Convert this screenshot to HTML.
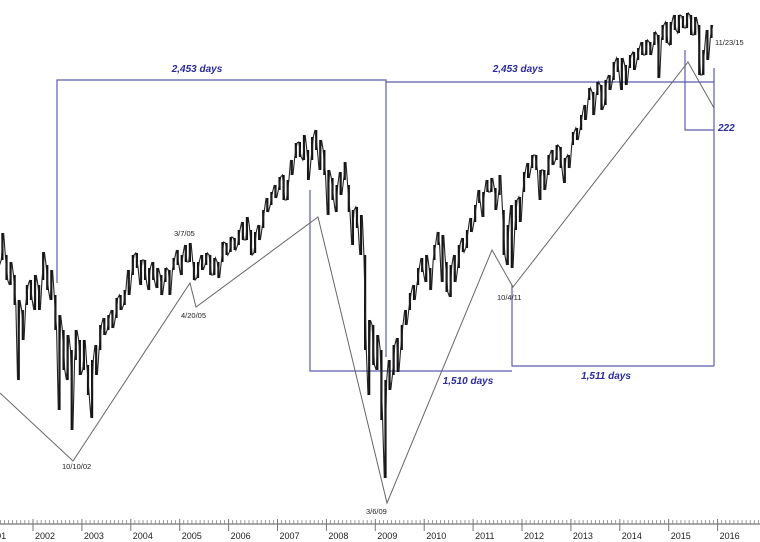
<!DOCTYPE html>
<html><head><meta charset="utf-8">
<style>
html,body{margin:0;padding:0;background:#fff;}
svg{display:block;font-family:"Liberation Sans",sans-serif;}
.ann{fill:none;stroke:#5c5cae;stroke-width:1.2;}
.days{fill:#2b2b9c;font-size:10px;font-weight:bold;font-style:italic;}
.lbl{fill:#222;font-size:7.5px;}
</style></head>
<body>
<svg id="chart" width="760" height="542" viewBox="0 0 760 542">
<rect width="760" height="542" fill="#fff"/>
<g id="annotations">
<path class="ann" d="M57,283 V80 H386 V357"/>
<path class="ann" d="M386,82 H714 V366"/>
<path class="ann" d="M714,68 V82"/>
<path class="ann" d="M685,50 V130 H714"/>
<path class="ann" d="M310,190 V371 H512"/>
<path class="ann" d="M512,285 V366 H714"/>
<text class="days" x="197" y="72" text-anchor="middle">2,453 days</text>
<text class="days" x="518" y="72" text-anchor="middle">2,453 days</text>
<text class="days" x="468" y="384" text-anchor="middle">1,510 days</text>
<text class="days" x="606" y="379" text-anchor="middle">1,511 days</text>
<text class="days" x="718" y="131">222</text>
<polyline fill="none" stroke="#666" stroke-width="1" points="0,393 73,461 190,283 196,307 318,217 387,503 492,250 513,287 688,62 714,108"/>
<text class="lbl" x="62" y="469">10/10/02</text>
<text class="lbl" x="174" y="236">3/7/05</text>
<text class="lbl" x="181" y="318">4/20/05</text>
<text class="lbl" x="366" y="514">3/6/09</text>
<text class="lbl" x="497" y="300">10/4/11</text>
<text class="lbl" x="715" y="45">11/23/15</text>
</g>
<g id="series"></g>
<g id="axis"></g>
</svg>
<script>
// monthly high / low levels, Apr 2001 .. Nov 2015 (chart units)
const startYear = 2001, startMonth = 3; // April 2001 (0-based month)
const highs = [
260,267,245,238,225,200,190,215,220,
225,215,248,235,230,205,185,170,165,150,170,160,
160,135,140,155,175,182,185,190,202,205,210,230,
245,247,240,240,232,238,232,225,232,230,242,250,
245,255,257,238,238,245,247,245,242,238,258,257,
263,262,270,278,283,270,268,275,290,302,308,315,
323,325,320,340,357,358,365,350,363,370,360,350,
330,322,315,328,338,315,290,293,285,245,180,175,
165,150,120,140,155,162,175,190,207,215,232,242,
245,232,255,268,265,238,235,245,255,262,270,282,
295,310,308,320,322,312,325,290,275,295,300,303,
328,337,345,345,330,330,345,350,355,353,342,345,
368,372,385,395,412,408,418,415,420,425,438,442,
442,435,445,448,452,458,460,458,468,465,475,478,
478,485,485,484,487,485,483,475,450,470,475];
const lows = [
235,240,220,215,195,120,160,195,200,
190,190,220,210,200,170,90,130,120,70,140,125,
130,105,82,125,150,165,170,172,182,190,195,205,
225,232,215,220,210,220,212,205,218,205,230,235,
225,238,238,220,222,230,235,225,225,222,238,245,
248,250,255,260,260,245,247,260,272,288,295,302,
310,300,300,325,342,343,340,320,340,350,330,325,
285,300,288,305,320,288,255,272,245,150,105,135,
130,80,22,110,125,128,150,175,190,200,215,228,
218,210,240,255,218,208,203,218,232,248,252,268,
278,297,283,308,308,290,305,245,235,232,270,278,
308,322,332,330,300,310,325,335,340,332,317,332,
355,360,370,380,400,385,405,390,395,410,420,428,
410,415,432,430,440,445,445,445,455,422,460,457,
455,470,467,472,472,465,465,425,425,440,462];
const yearTicks = [2001,2002,2003,2004,2005,2006,2007,2008,2009,2010,2011,2012,2013,2014,2015,2016];

const NS = "http://www.w3.org/2000/svg";
function xScale(t){ return 33 + 48.9*(t-2002); }
function yScale(v){ return 500 - v; }
function monthT(i){ const m = startMonth + i; return startYear + (m + 0.5)/12; }

const series = document.getElementById('series');
let pts = [];
for (let i=0;i<highs.length;i++){
  const x = xScale(monthT(i));
  const bar = document.createElementNS(NS,'line');
  bar.setAttribute('x1',x); bar.setAttribute('x2',x);
  bar.setAttribute('y1',yScale(highs[i])); bar.setAttribute('y2',yScale(lows[i]));
  bar.setAttribute('stroke','#111'); bar.setAttribute('stroke-width','2.2');
  
  
  series.appendChild(bar);
  if (i%2===0){ pts.push((x-1.2)+','+yScale(highs[i])); pts.push((x+1.2)+','+yScale(lows[i])); }
  else { pts.push((x-1.2)+','+yScale(lows[i])); pts.push((x+1.2)+','+yScale(highs[i])); }
}
const pl = document.createElementNS(NS,'polyline');
pl.setAttribute('points', pts.join(' '));
pl.setAttribute('fill','none'); pl.setAttribute('stroke','#222'); pl.setAttribute('stroke-width','1.1');


series.appendChild(pl);

const axis = document.getElementById('axis');
const base = document.createElementNS(NS,'line');
base.setAttribute('x1',0); base.setAttribute('x2',760); base.setAttribute('y1',524); base.setAttribute('y2',524);
base.setAttribute('stroke','#555'); base.setAttribute('stroke-width','1');


axis.appendChild(base);
for (let yi=0; yi<yearTicks.length; yi++){
  const yr = yearTicks[yi];
  for (let m=0;m<12;m++){
    const x = xScale(yr + m/12);
    if (x<0||x>760) continue;
    const t = document.createElementNS(NS,'line');
    t.setAttribute('x1',x); t.setAttribute('x2',x);
    t.setAttribute('y1', m===0 ? 519 : 520); t.setAttribute('y2', m===0 ? 531 : 524);
    t.setAttribute('stroke','#777'); t.setAttribute('stroke-width', m===0 ? '1' : '0.7');
    
    
    axis.appendChild(t);
  }
  const lab = document.createElementNS(NS,'text');
  lab.setAttribute('x', xScale(yr)+2); lab.setAttribute('y', 539);
  lab.setAttribute('font-size','9'); lab.setAttribute('fill','#222');
  lab.textContent = String(yr);
  
  
  axis.appendChild(lab);
}
</script>
</body></html>
